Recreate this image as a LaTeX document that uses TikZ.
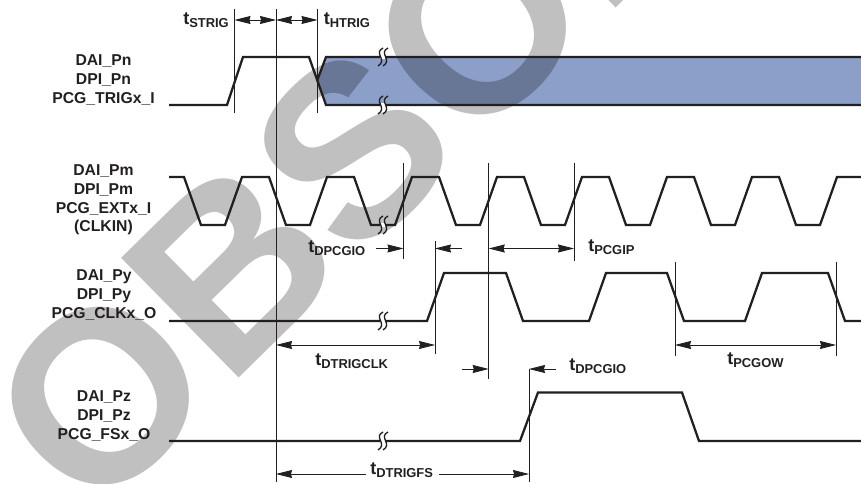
\documentclass[tikz,border=0pt]{standalone}
\usepackage{fontspec}
\setmainfont{Liberation Sans}
\usetikzlibrary{arrows.meta}
\definecolor{inkblack}{HTML}{231F20}
\definecolor{bandblue}{HTML}{8C9FC9}
\definecolor{stampgray}{HTML}{C0C0C0}
\newcommand{\tsub}[1]{{\fontsize{13.5}{13.5}\selectfont t}\raisebox{-0.22em}{\fontsize{9.7}{9.7}\selectfont #1}}
\tikzset{
    wave/.style={line width=1.7pt,color=inkblack,line join=miter},
    marker/.style={line width=0.6pt,color=inkblack},
    span/.style={line width=0.6pt,color=inkblack,{Stealth[length=12pt,width=6pt,inset=0.8pt]}-{Stealth[length=12pt,width=6pt,inset=0.8pt]}},
    toright/.style={line width=0.6pt,color=inkblack,-{Stealth[length=12pt,width=6pt,inset=0.8pt]}},
    sig/.style={font=\bfseries\fontsize{11.8}{14}\selectfont,align=center,text=inkblack,inner sep=0pt},
    tlabel/.style={font=\bfseries,text=inkblack,inner sep=0pt,anchor=base west},
}
\begin{document}
\begin{tikzpicture}[x=0.75pt,y=-0.75pt]
    \useasboundingbox (0,0) rectangle (861,484);

    \fill[bandblue] (317,81) -- (326,57) -- (861,57) -- (861,105) -- (326,105) -- cycle;

    \begin{scope}
        \clip (0,0) rectangle (861,484);
        \node[blend mode=multiply,text=stampgray,font=\bfseries\fontsize{183}{183}\selectfont,rotate=44.5,anchor=base west,inner sep=0pt] (stamp) at (92,523) {OBSOLETE};
    \end{scope}

    % waveforms
    \draw[wave] (169,105) -- (227,105) -- (243,57) -- (309,57) -- (326,105) -- (861,105);
    \draw[wave] (317,81) -- (326,57) -- (861,57);

    \draw[wave] (169,177) \foreach \k in {0,...,7}{
        -- ({184+85*\k},177) -- ({201+85*\k},225) -- ({225+85*\k},225) -- ({242+85*\k},177)
    } -- (861,177);

    \draw[wave] (169,321) -- (427,321) -- (444,273) -- (506,273) -- (523,321) -- (589,321) -- (606,273)
        -- (667,273) -- (684,321) -- (745,321) -- (762,273) -- (828,273) -- (845,321) -- (861,321);

    \draw[wave] (169,441) -- (520,441) -- (538,392.5) -- (682,392.5) -- (699,441) -- (861,441);

    % breaks
    \foreach \y in {57,105,225,321,441}{
        \draw[white,line width=2.6pt] (380,\y) -- (385,\y);
        \draw[line width=1pt,inkblack] (383,\y-9) .. controls (373,\y-4) and (388,\y+3) .. (378,\y+9);
        \draw[line width=1pt,inkblack] (388,\y-9) .. controls (378,\y-4) and (393,\y+3) .. (383,\y+9);
    }

    % timing marks
    \foreach \name/\x/\a/\b in {st/234.5/9/113, tr/276/9/482, ht/317.5/9/113, io/403.5/163/259, ck/435/241/354,
        ed/488.7/163/379, ip/574/163/261, ow/675/262/356, ox/836/262/356, fs/529/369/482}{
        \coordinate (\name-top) at (\x,\a);
        \coordinate (\name-bot) at (\x,\b);
        \draw[marker] (\name-top) -- (\name-bot);
    }

    \draw[span] (st-top |- 0,20) -- (tr-top |- 0,20);
    \draw[span] (tr-top |- 0,20) -- (ht-top |- 0,20);
    \draw[span] (ed-top |- 0,248.5) -- (ip-top |- 0,248.5);
    \draw[span] (tr-top |- 0,345) -- (ck-top |- 0,345);
    \draw[span] (ow-top |- 0,345) -- (ox-top |- 0,345);

    \node[tlabel] (tstrig) at (183,25) {\tsub{STRIG}};
    \node[tlabel] (thtrig) at (323.5,25) {\tsub{HTRIG}};
    \node[tlabel] (tio) at (308,253) {\tsub{DPCGIO}};
    \node[tlabel] (tpcgip) at (588,252) {\tsub{PCGIP}};
    \node[tlabel] (tclk) at (315,366) {\tsub{DTRIGCLK}};
    \node[tlabel] (tpcgow) at (727,365) {\tsub{PCGOW}};
    \node[tlabel] (tiob) at (569,371) {\tsub{DPCGIO}};
    \node[tlabel] (tfs) at (370,474.5) {\tsub{DTRIGFS}};

    \coordinate (ioleft) at (376,248.5);
    \coordinate (ckright) at (462,248.5);
    \coordinate (edleft) at (462,369);
    \coordinate (fsright) at (556,369);
    \coordinate (fsl) at (366,474);
    \coordinate (fsr) at (439,474);
    \draw[toright] (ioleft) -- (io-top |- ioleft);
    \draw[toright] (ckright) -- (ck-top |- ckright);
    \draw[toright] (edleft) -- (ed-top |- edleft);
    \draw[toright] (fsright) -- (fs-top |- fsright);
    \draw[toright] (fsl) -- (tr-top |- fsl);
    \draw[toright] (fsr) -- (fs-top |- fsr);

    % signal names
    \node[sig] (pn) at (103.5,80) {DAI\_Pn\\DPI\_Pn\\PCG\_TRIGx\_I};
    \node[sig] (pm) at (103.5,200) {DAI\_Pm\\DPI\_Pm\\PCG\_EXTx\_I\\(CLKIN)};
    \node[sig] (py) at (104,295) {DAI\_Py\\DPI\_Py\\PCG\_CLKx\_O};
    \node[sig] (pz) at (104,416) {DAI\_Pz\\DPI\_Pz\\PCG\_FSx\_O};
\end{tikzpicture}
\end{document}
